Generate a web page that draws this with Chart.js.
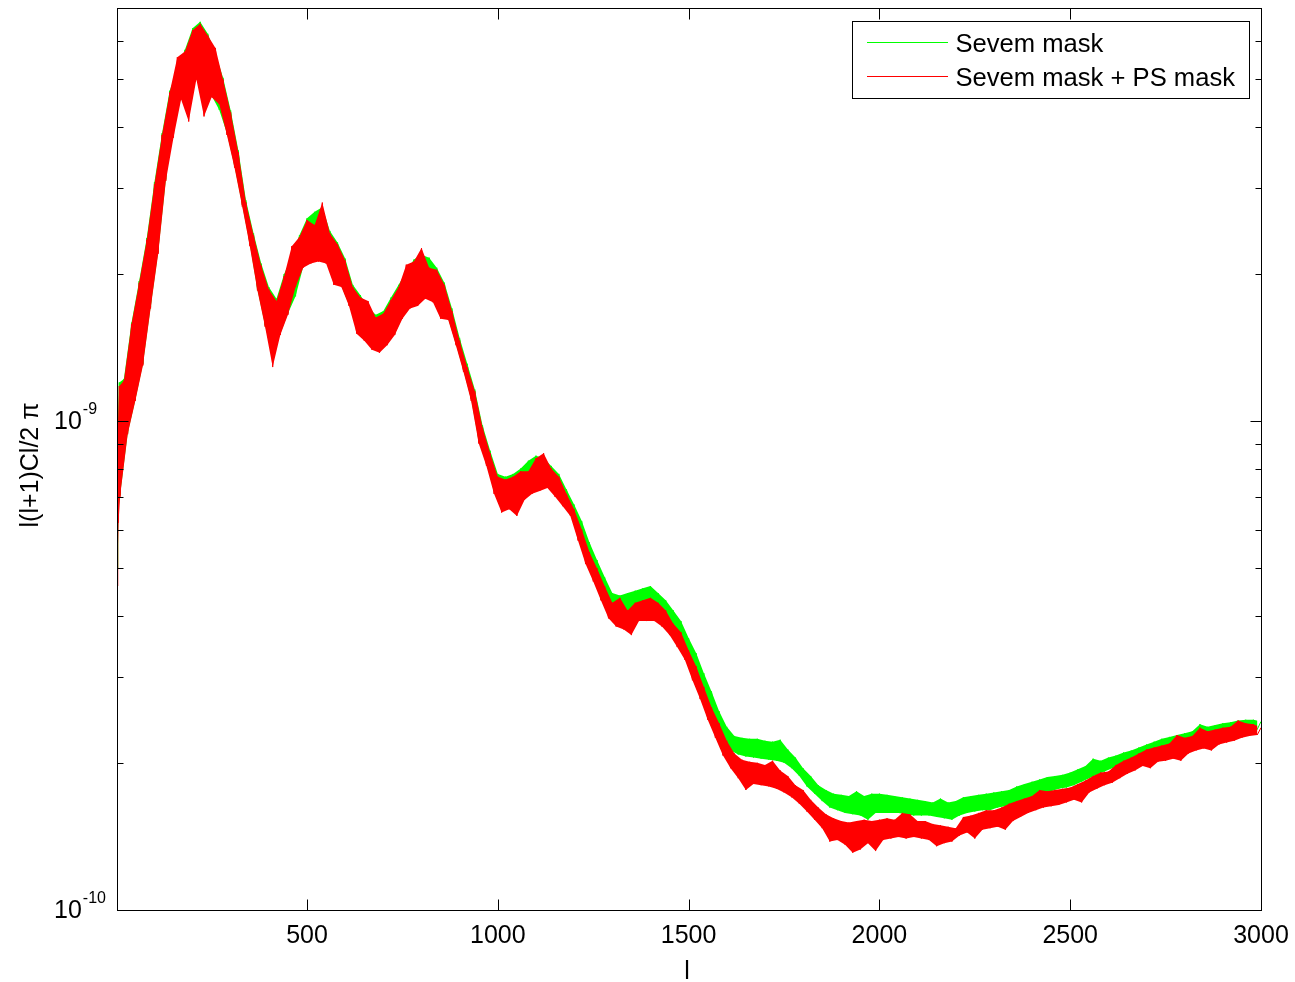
<!DOCTYPE html>
<html>
<head>
<meta charset="utf-8">
<script src="https://cdn.jsdelivr.net/npm/chart.js@4.4.1/dist/chart.umd.min.js"></script>
<style>
  html, body { margin: 0; padding: 0; background: #fff; }
  canvas { display: block; }
</style>
</head>
<body>
<canvas id="chart" width="1295" height="982"></canvas>
<script>
// multipoles: a few low ones, then l = 10..3000 every 10
const ellLow = [2, 4, 6, 8];
const ellStart = 10, ellStep = 10, ellEnd = 3000;

// l(l+1)Cl/2pi in units of 1e-10.
// The spectra are very noisy, so the values alternate between the
// lower edge (even index) and the upper edge (odd index) of the band.
const unit = 1e-10;
const sevemLow = [5.0, 9.8, 6.6, 12.0];
const sevemPsLow = [4.6, 9.5, 6.2, 11.8];

const sevemMask = [
  7.05, 12.2, 9.45, 15.9, 11.05, 19.35, 13.1, 23.7, 17.1, 30.8,
  22.2, 38.8, 31.2, 47.4, 40.8, 52.4, 45.8, 57.5, 47.0, 63.6,
  50.4, 65.6, 47.5, 62.0, 46.3, 56.5, 43.3, 50.4, 38.8, 43.2,
  33.2, 35.8, 27.7, 28.3, 23.0, 24.2, 18.6, 21.0, 15.7, 18.8,
  13.5, 17.8, 15.1, 20.0, 16.6, 21.7, 18.0, 24.0, 20.7, 26.0,
  21.1, 26.8, 21.3, 27.4, 21.1, 24.5, 20.1, 23.2, 18.9, 21.5,
  17.3, 19.0, 15.7, 18.1, 14.7, 17.1, 14.1, 16.5, 13.9, 16.8,
  14.4, 17.9, 15.1, 19.0, 16.3, 20.2, 17.1, 21.4, 17.8, 21.9,
  17.9, 21.6, 17.6, 20.6, 16.9, 19.2, 16.2, 17.0, 14.4, 14.8,
  12.7, 13.1, 11.1, 11.6, 9.1, 9.8, 8.2, 8.7, 7.2, 7.8,
  6.75, 7.7, 6.7, 7.8, 6.65, 8.0, 6.95, 8.3, 7.15, 8.5,
  7.25, 8.4, 7.4, 8.1, 7.1, 7.8, 6.8, 7.25, 6.5, 6.75,
  5.9, 6.25, 5.3, 5.65, 4.9, 5.2, 4.5, 4.8, 4.15, 4.45,
  4.05, 4.4, 4.0, 4.45, 4.05, 4.5, 4.15, 4.55, 4.2, 4.6,
  4.15, 4.45, 4.05, 4.3, 3.85, 4.1, 3.65, 3.9, 3.45, 3.6,
  3.15, 3.35, 2.85, 3.05, 2.6, 2.8, 2.42, 2.55, 2.25, 2.37,
  2.12, 2.27, 2.08, 2.25, 2.06, 2.24, 2.05, 2.24, 2.04, 2.22,
  2.03, 2.21, 2.02, 2.23, 2.0, 2.13, 1.95, 2.05, 1.88, 1.95,
  1.79, 1.88, 1.73, 1.80, 1.67, 1.76, 1.62, 1.73, 1.60, 1.72,
  1.58, 1.71, 1.57, 1.75, 1.56, 1.71, 1.53, 1.73, 1.58, 1.73,
  1.58, 1.72, 1.58, 1.71, 1.58, 1.70, 1.57, 1.69, 1.56, 1.68,
  1.56, 1.67, 1.56, 1.66, 1.55, 1.69, 1.54, 1.66, 1.53, 1.67,
  1.56, 1.70, 1.58, 1.71, 1.59, 1.72, 1.60, 1.73, 1.60, 1.74,
  1.62, 1.75, 1.63, 1.76, 1.65, 1.79, 1.64, 1.81, 1.69, 1.83,
  1.71, 1.85, 1.73, 1.87, 1.75, 1.88, 1.77, 1.89, 1.78, 1.91,
  1.80, 1.94, 1.83, 1.97, 1.86, 2.04, 1.89, 2.02, 1.92, 2.05,
  1.95, 2.07, 1.97, 2.10, 2.00, 2.12, 2.02, 2.15, 2.01, 2.18,
  2.07, 2.21, 2.10, 2.24, 2.12, 2.26, 2.14, 2.28, 2.15, 2.30,
  2.17, 2.32, 2.18, 2.40, 2.22, 2.37, 2.24, 2.39, 2.26, 2.41,
  2.27, 2.42, 2.29, 2.44, 2.31, 2.45, 2.32, 2.45, 2.34, 2.43
];

const sevemPsMask = [
  7.0, 12.1, 9.4, 15.8, 11.0, 19.2, 13.0, 23.5, 17.0, 30.5,
  22.0, 38.5, 31.0, 47.0, 38.0, 55.5, 45.5, 57.0, 41.0, 63.0,
  50.0, 65.0, 42.0, 61.5, 46.0, 58.0, 44.5, 50.0, 38.5, 42.8,
  33.0, 35.5, 27.5, 28.0, 22.8, 24.0, 18.5, 20.8, 15.6, 18.6,
  12.9, 17.6, 15.0, 19.8, 16.5, 22.8, 18.8, 23.8, 20.6, 25.8,
  21.0, 25.2, 21.2, 28.0, 21.0, 24.2, 19.0, 23.0, 18.8, 21.3,
  17.2, 18.8, 15.1, 17.9, 14.6, 17.6, 14.0, 16.3, 13.8, 16.6,
  14.3, 17.7, 15.0, 18.8, 16.2, 20.9, 17.0, 21.2, 17.2, 22.6,
  17.8, 20.6, 17.5, 20.4, 16.2, 19.0, 16.1, 16.8, 14.3, 14.6,
  12.6, 12.9, 11.0, 11.5, 9.0, 9.7, 8.1, 8.6, 7.1, 7.7,
  6.5, 7.6, 6.6, 7.7, 6.4, 7.9, 6.9, 7.9, 7.1, 8.4,
  7.2, 8.6, 7.3, 8.0, 7.0, 7.7, 6.7, 7.1, 6.4, 6.6,
  5.7, 6.0, 5.1, 5.4, 4.7, 5.0, 4.3, 4.6, 3.95, 4.25,
  3.8, 4.35, 3.75, 4.1, 3.65, 4.25, 3.9, 4.3, 3.9, 4.35,
  3.9, 4.25, 3.8, 4.1, 3.65, 3.85, 3.45, 3.7, 3.25, 3.4,
  2.95, 3.15, 2.7, 2.86, 2.45, 2.6, 2.25, 2.41, 2.07, 2.22,
  1.95, 2.09, 1.86, 2.03, 1.76, 2.01, 1.81, 2.0, 1.80, 1.98,
  1.79, 2.02, 1.77, 1.93, 1.74, 1.88, 1.70, 1.80, 1.65, 1.76,
  1.59, 1.68, 1.53, 1.62, 1.47, 1.57, 1.38, 1.54, 1.39, 1.52,
  1.36, 1.51, 1.31, 1.52, 1.33, 1.53, 1.37, 1.52, 1.32, 1.53,
  1.39, 1.54, 1.40, 1.53, 1.41, 1.58, 1.40, 1.57, 1.41, 1.52,
  1.40, 1.52, 1.39, 1.50, 1.35, 1.49, 1.37, 1.48, 1.38, 1.47,
  1.42, 1.55, 1.44, 1.56, 1.40, 1.58, 1.46, 1.60, 1.47, 1.60,
  1.48, 1.62, 1.46, 1.65, 1.52, 1.67, 1.55, 1.69, 1.58, 1.71,
  1.60, 1.76, 1.62, 1.75, 1.63, 1.76, 1.64, 1.77, 1.66, 1.78,
  1.68, 1.81, 1.66, 1.84, 1.74, 1.88, 1.77, 1.91, 1.80, 1.92,
  1.82, 1.98, 1.86, 2.02, 1.90, 2.05, 1.93, 2.09, 1.97, 2.13,
  1.95, 2.15, 2.01, 2.17, 2.02, 2.19, 2.04, 2.28, 2.02, 2.25,
  2.09, 2.27, 2.12, 2.36, 2.14, 2.32, 2.12, 2.34, 2.18, 2.36,
  2.20, 2.37, 2.22, 2.44, 2.25, 2.41, 2.27, 2.40, 2.28, 2.36
];

const seriesNames = ["Sevem mask", "Sevem mask + PS mask"];
const seriesColors = ["#00ff00", "#ff0000"];

const xTicks = [500, 1000, 1500, 2000, 2500, 3000];
const yMajor = [1e-10, 1e-9];
const yMajorExp = ["-10", "-9"];
const yMinor = [2e-10, 3e-10, 4e-10, 5e-10, 6e-10, 7e-10, 8e-10, 9e-10,
                2e-9, 3e-9, 4e-9, 5e-9, 6e-9, 7e-9];

const ell = ellLow.slice();
for (let l = ellStart; l <= ellEnd; l += ellStep) ell.push(l);

// the series line, plus its lower and upper band edges
function split(low, vals) {
  const all = low.concat(vals);
  if (all.length !== ell.length) console.error("length mismatch", all.length, ell.length);
  const pts = all.map((v, i) => ({ x: ell[i], y: v * unit }));
  return {
    line: pts,
    lower: pts.filter((p, i) => i % 2 === 0),
    upper: pts.filter((p, i) => i % 2 === 1)
  };
}

const green = split(sevemLow, sevemMask);
const red = split(sevemPsLow, sevemPsMask);

const FONT = '"Liberation Sans", Arial, Helvetica, sans-serif';

// sharp joins so the noisy line keeps its spikes
const spikes = {
  id: "spikes",
  beforeDatasetsDraw(chart) { chart.ctx.miterLimit = 25; },
  afterDatasetsDraw(chart) { chart.ctx.miterLimit = 10; }
};

const frame = {
  id: "frame",
  afterDraw(chart) {
    const { ctx, chartArea: a, scales } = chart;
    const xs = scales.x, ys = scales.y;
    const L = a.left + 0.5, R = Math.round(a.right) + 0.5;
    const T = a.top + 0.5, B = Math.round(a.bottom) + 0.5;
    ctx.save();
    ctx.strokeStyle = "#000";
    ctx.lineWidth = 1;
    ctx.strokeRect(L, T, R - L, B - T);

    ctx.beginPath();
    xTicks.forEach(v => {
      const px = Math.round(xs.getPixelForValue(v)) + 0.5;
      ctx.moveTo(px, B); ctx.lineTo(px, B - 11);
      ctx.moveTo(px, T); ctx.lineTo(px, T + 11);
    });
    yMajor.forEach(v => {
      const py = Math.round(ys.getPixelForValue(v)) + 0.5;
      ctx.moveTo(L, py); ctx.lineTo(L + 11, py);
      ctx.moveTo(R, py); ctx.lineTo(R - 11, py);
    });
    yMinor.forEach(v => {
      const py = Math.round(ys.getPixelForValue(v)) + 0.5;
      ctx.moveTo(L, py); ctx.lineTo(L + 6, py);
      ctx.moveTo(R, py); ctx.lineTo(R - 6, py);
    });
    ctx.stroke();

    ctx.fillStyle = "#000";
    ctx.font = "25px " + FONT;
    ctx.textAlign = "center";
    ctx.textBaseline = "alphabetic";
    xTicks.forEach(v => ctx.fillText(String(v), xs.getPixelForValue(v), 943));
    ctx.fillText("l", (a.left + a.right) / 2 - 2, 979);

    yMajor.forEach((v, i) => {
      const base = ys.getPixelForValue(v) + 8;
      ctx.font = "25px " + FONT;
      ctx.textAlign = "left";
      ctx.fillText("10", 54, base);
      const w = ctx.measureText("10").width;
      ctx.font = "16px " + FONT;
      ctx.fillText(yMajorExp[i], 54 + w + 1, base - 15);
    });

    ctx.save();
    ctx.translate(38, 465);
    ctx.rotate(-Math.PI / 2);
    ctx.font = "25px " + FONT;
    ctx.textAlign = "center";
    ctx.fillText("l(l+1)Cl/2 \u03c0", 0, 0);
    ctx.restore();

    // legend box, upper right inside the axes
    ctx.fillStyle = "#fff";
    ctx.fillRect(852.5, 21.5, 397, 77);
    ctx.strokeStyle = "#000";
    ctx.strokeRect(852.5, 21.5, 397, 77);
    const rows = [42.5, 76.5];
    seriesNames.forEach((name, i) => {
      ctx.strokeStyle = seriesColors[i];
      ctx.beginPath();
      ctx.moveTo(867, rows[i]); ctx.lineTo(948, rows[i]);
      ctx.stroke();
      ctx.fillStyle = "#000";
      ctx.font = "25.6px " + FONT;
      ctx.textAlign = "left";
      ctx.fillText(name, 955.5, rows[i] + 9.5);
    });
    ctx.restore();
  }
};

function edge(name, pts, color, order, target) {
  return {
    label: name, data: pts, order, borderWidth: 0,
    borderColor: color, backgroundColor: color,
    fill: target === undefined ? false : { target }
  };
}

function noisy(name, pts, color, order) {
  return {
    label: name, data: pts, order, borderWidth: 1,
    borderColor: color, borderJoinStyle: "miter", fill: false
  };
}

new Chart(document.getElementById("chart"), {
  type: "line",
  data: {
    datasets: [
      edge(seriesNames[0], green.lower, seriesColors[0], 1),
      edge(seriesNames[0], green.upper, seriesColors[0], 1, 0),
      noisy(seriesNames[0], green.line, seriesColors[0], 1),
      edge(seriesNames[1], red.lower, seriesColors[1], 0),
      edge(seriesNames[1], red.upper, seriesColors[1], 0, 3),
      noisy(seriesNames[1], red.line, seriesColors[1], 0)
    ]
  },
  options: {
    responsive: false,
    animation: false,
    devicePixelRatio: 1,
    layout: { padding: { left: 117, right: 34, top: 8, bottom: 72 } },
    elements: {
      point: { radius: 0 },
      line: { tension: 0 }
    },
    scales: {
      x: { type: "linear", min: 2, max: 3000, display: false },
      y: { type: "logarithmic", min: 1e-10, max: 7e-9, display: false }
    },
    plugins: { legend: { display: false }, tooltip: { enabled: false } }
  },
  plugins: [spikes, frame]
});
</script>
</body>
</html>
